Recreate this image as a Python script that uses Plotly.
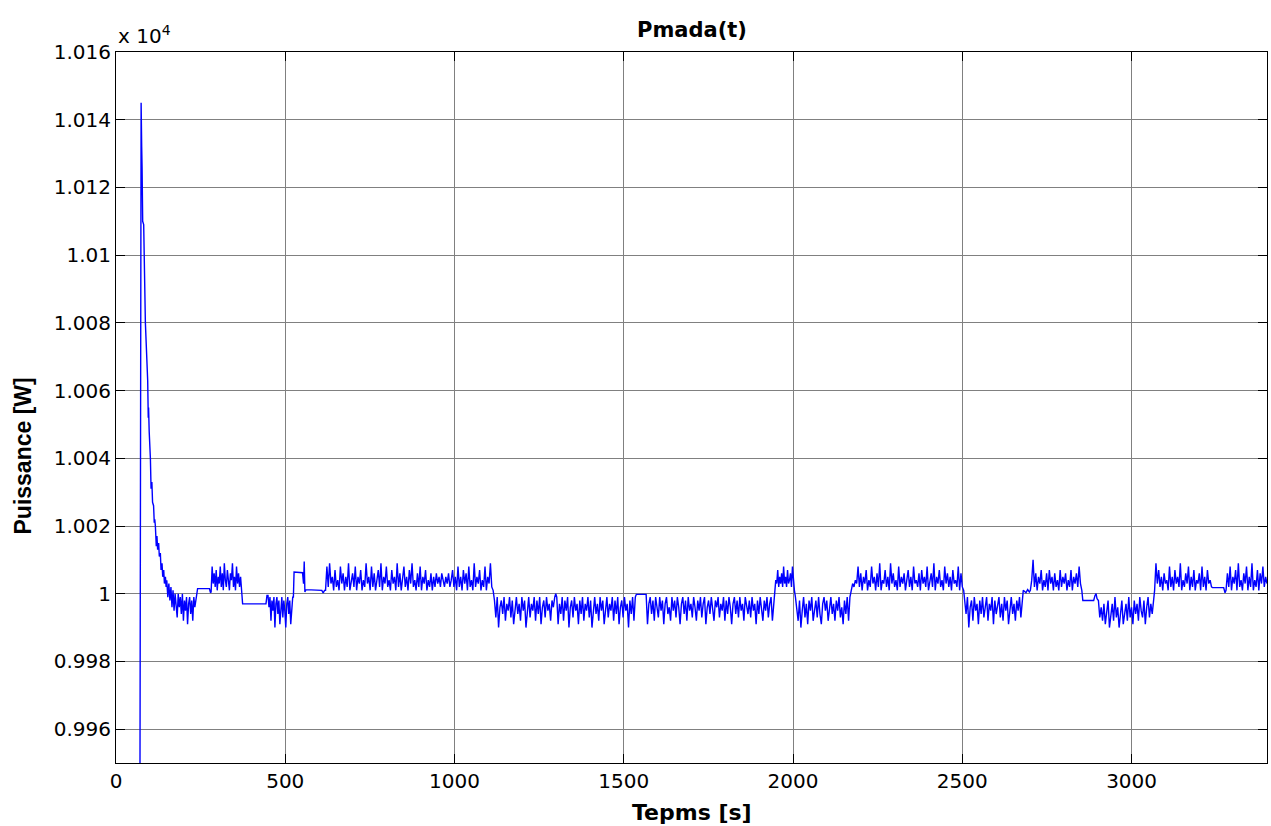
import numpy as np
import plotly.graph_objects as go

# Start-up transient of the DFIG stator power (time in s, power in W)
transient_t = [70, 74.2, 75.9, 77, 78.8, 81.8, 83.8, 86.8, 93.6, 94.5, 95.3, 96.2, 98,
               100.6, 101.6, 103.6, 106, 108, 111, 113, 114.5, 116.3, 119, 121, 123,
               126, 128, 131, 133, 136, 138, 141, 143, 146, 148]
transient_p = [9900, 10145, 10132, 10126, 10110, 10109, 10094, 10080, 10063, 10055, 10052,
               10055, 10048, 10044, 10040, 10031, 10033, 10027, 10026, 10021, 10022,
               10020, 10014, 10017, 10013, 10015, 10011, 10012, 10007, 10009, 10005,
               10007, 10003, 10005, 10002]

# Sampled power in each wind regime (W)
seg_a = [10004, 9999, 10003, 9998, 10002, 9996, 10001, 9995, 10000, 9997, 9993, 10000,
         9996, 9999, 9994, 10000, 9992, 9998, 9995, 9999, 9991, 9997, 9999, 9994, 9998,
         9992, 9999, 9996, 9998]
seg_b = [10000.5, 10008, 10003, 10006, 10002, 10007, 10001, 10005, 10003, 10008, 10002,
         10006, 10001, 10009, 10004, 10002, 10007, 10003, 10001, 10006, 10004, 10009,
         10002, 10005, 10001, 10008, 10003, 10006, 10002, 10005, 10001]
seg_c = [9999.5, 9996, 9999, 9992, 9998, 9995, 9999, 9990, 9997, 9999, 9994, 9998, 9991,
         9996, 9999, 9993, 9998, 9995, 9990, 9997, 9999, 9994, 9998, 9991, 9997, 9999]
seg_d = [10001, 10008, 10002, 10009, 10003, 10005, 10001, 10007, 10002, 10004, 10001,
         10008, 10003, 10006, 10001, 10005, 10002, 10009, 10001, 10004,
         10006, 10002, 10008, 10001, 10005, 10003, 10007, 10001, 10004, 10002, 10009,
         10003, 10005, 10001, 10008, 10002, 10006, 10001, 10004, 10007,
         10002, 10009, 10001, 10005, 10003, 10008, 10002, 10004, 10001, 10007, 10003,
         10005, 10001, 10009, 10002, 10006, 10001, 10004, 10008, 10002,
         10005, 10001, 10007, 10003, 10009, 10002, 10004, 10001, 10006, 10002, 10008,
         10001, 10005, 10003, 10007, 10001, 10004, 10002, 10006, 10001,
         10005, 10002, 10006, 10003, 10005, 10002, 10006, 10004, 10002, 10005, 10003,
         10006, 10002, 10004, 10007, 10002, 10005, 10001, 10008, 10002,
         10005, 10001, 10007, 10003, 10006, 10001, 10008, 10002, 10004, 10001, 10009,
         10002, 10005, 10003, 10007, 10001, 10004, 10002, 10008, 10001, 10005, 10003,
         10009, 10002, 10001]
seg_e1 = [9998, 9993, 9999, 9990, 9996, 9998, 9994, 9999, 9992, 9997, 9995, 9999, 9993,
          9998, 9991, 9996, 9999, 9994, 9997, 9992, 9999, 9995, 9998, 9990, 9996, 9999,
          9993, 9997, 9995, 9999, 9992, 9998, 9994, 9999, 9991, 9996, 9998, 9993, 9999,
          9995, 9997, 9992, 9998, 9996, 9999]
seg_e2 = [9999, 9991, 9997, 9994, 9999, 9992, 9998, 9995, 9999, 9990, 9996, 9998, 9993,
          9999, 9995, 9997, 9991, 9998, 9994, 9999, 9992, 9997, 9995, 9999, 9993, 9998,
          9990, 9996, 9999, 9994, 9997, 9992, 9999, 9995, 9998, 9991, 9996, 9999, 9993,
          9997, 9995, 9999, 9992, 9998, 9994, 9999, 9991, 9996, 9998, 9993, 9999, 9995,
          9997, 9990, 9998, 9994, 9999, 9992, 9999]
seg_e3 = [9991, 9997, 9999, 9994, 9998, 9992, 9999, 9996, 9993, 9999, 9995, 9998, 9991,
          9997, 9999, 9994, 9996, 9992, 9999, 9995, 9998, 9993, 9999, 9996, 9991, 9997,
          9999, 9994, 9998, 9992, 9999, 9995, 9997, 9993, 9999, 9996, 9992, 9998, 9995,
          9999, 9993, 9997, 9999, 9991, 9996, 9998, 9994, 9999, 9995, 9992, 9998, 9996,
          9999, 9993, 9997, 9995, 9999, 9992, 9998, 9994, 9999, 9996, 9991, 9997, 9999,
          9994, 9998, 9993, 9999, 9995, 9997, 9992, 9999, 9996, 9994, 9998, 9993, 9999,
          9995, 9997, 9991, 9998, 9994, 9999, 9996, 9992, 9998, 9995, 9999, 9993, 9997,
          9999, 9992, 9998]
seg_f = [10001, 10004, 10003, 10007, 10002, 10005, 10003, 10006, 10002, 10008, 10003,
         10005, 10002, 10007, 10003, 10004, 10006, 10002, 10008, 10003, 10001]
seg_g = [9999, 9996, 9992, 9998, 9990, 9995, 9999, 9993, 9997, 9991, 9998, 9995, 9999,
         9992, 9996, 9998, 9993, 9999, 9994, 9991, 9997, 9999, 9995, 9998, 9992, 9996,
         9999, 9994, 9997, 9992, 9998, 9995, 9999, 9993, 9996, 9991, 9998, 9994, 9999,
         9992, 9999]
seg_h = [10001, 10003, 10002, 10004, 10003, 10008, 10002, 10006, 10001, 10005, 10003,
         10007, 10001, 10004, 10002, 10008, 10003, 10005, 10001, 10006, 10002, 10009,
         10001, 10004, 10003, 10007, 10002, 10005, 10001, 10009, 10003, 10006, 10002,
         10004, 10001, 10008, 10002, 10005, 10003, 10006, 10001, 10004, 10007, 10002,
         10005, 10001, 10008, 10003, 10004, 10002, 10006, 10001, 10007, 10003, 10005,
         10002, 10008, 10001, 10004, 10006, 10002, 10009, 10001, 10005, 10003, 10007,
         10002, 10004, 10001, 10008, 10003, 10006, 10002, 10005, 10001, 10007, 10003,
         10004, 10002, 10008, 10001, 10006, 10002, 10001]
seg_i = [9998, 9994, 9999, 9990, 9996, 9998, 9992, 9999, 9995, 9997, 9991, 9998, 9994,
         9999, 9993, 9996, 9999, 9992, 9997, 9995, 9999, 9991, 9998, 9994, 9996, 9999,
         9993, 9997, 9992, 9999, 9995, 9998, 9991, 9996, 9999, 9994, 9997, 9992, 9998,
         9995, 9999, 9993, 9999]
seg_j = [10001, 10004, 10010, 10002, 10006, 10001, 10005, 10003, 10007, 10001, 10004,
         10002, 10006, 10001, 10007, 10003, 10005, 10001, 10006, 10002, 10004, 10001,
         10007, 10002, 10005, 10003, 10006, 10001, 10004, 10002, 10007, 10001, 10005,
         10003, 10006, 10002, 10008, 10003, 10001]
seg_k = [9998, 9993, 9996, 9992, 9997, 9991, 9995, 9998, 9990, 9994, 9997, 9992, 9999,
         9993, 9996, 9990, 9995, 9998, 9991, 9994, 9997, 9992, 9999, 9993, 9996, 9991,
         9998, 9994, 9997, 9992, 9999, 9995, 9993, 9998, 9991, 9996, 9999, 9993, 9997,
         9994, 9999]
seg_l = [10001, 10009, 10003, 10007, 10002, 10005, 10001, 10006, 10003, 10004, 10001,
         10008, 10002, 10005, 10001, 10007, 10003, 10005, 10002, 10009, 10001, 10004,
         10002, 10006, 10003, 10008, 10001, 10005, 10002, 10007, 10001, 10004, 10003,
         10006, 10001, 10008, 10002, 10005, 10001, 10007, 10003, 10004, 10002]
seg_m = [10001, 10006, 10002, 10008, 10001, 10005, 10003, 10007, 10001, 10009, 10002,
         10004, 10001, 10006, 10003, 10008, 10001, 10005, 10002, 10009, 10001, 10004,
         10002, 10007, 10001, 10006, 10003, 10008, 10002, 10005, 10003]

# Plateaus between regimes: (times, values)
hold_1 = ([239, 241, 276, 279], [9999, 10001.5, 10001.5, 10000.3])
hold_2 = ([374, 443, 446], [9997, 9997, 9999.5])
hold_3 = ([524, 526, 551, 554, 556, 558, 561, 608, 612, 616],
          [9999, 10006.4, 10006.2, 10003, 10009.5, 10000.5, 10001.2, 10001, 10000.2, 10001])
hold_4 = ([1299], [10000])
hold_5 = ([1537, 1566], [9999.8, 9999.8])
hold_6 = ([2680, 2688, 2693, 2698], [10001, 10000.3, 10001.2, 10000.5])
hold_7 = ([2856, 2888, 2892, 2895, 2898], [9998, 9998, 9999.5, 10000, 9998.5])
hold_8 = ([3239, 3272, 3276], [10001.8, 10001.8, 10000.3])

# Time windows (s) of each sampled regime
windows = {
    "a": (150, 236), "b": (281, 371), "c": (449, 522), "d": (619, 1114),
    "e1": (1118, 1296), "e2": (1302, 1534), "e3": (1570, 1943), "f": (1946, 2004),
    "g": (2007, 2168), "h": (2172, 2504), "i": (2507, 2677), "j": (2701, 2853),
    "k": (2902, 3065), "l": (3068, 3236), "m": (3279, 3400),
}


def sampled(key, vals):
    t0, t1 = windows[key]
    return list(np.linspace(t0, t1, len(vals))), list(vals)


pieces = [
    (transient_t, transient_p),
    sampled("a", seg_a), hold_1,
    sampled("b", seg_b), hold_2,
    sampled("c", seg_c), hold_3,
    sampled("d", seg_d),
    sampled("e1", seg_e1), hold_4,
    sampled("e2", seg_e2), hold_5,
    sampled("e3", seg_e3),
    sampled("f", seg_f),
    sampled("g", seg_g),
    sampled("h", seg_h),
    sampled("i", seg_i), hold_6,
    sampled("j", seg_j), hold_7,
    sampled("k", seg_k),
    sampled("l", seg_l), hold_8,
    sampled("m", seg_m),
]
t = [v for p in pieces for v in p[0]]
p = [v for p in pieces for v in p[1]]

x_ticks = [0, 500, 1000, 1500, 2000, 2500, 3000]
y_ticks = [9960, 9980, 10000, 10020, 10040, 10060, 10080, 10100, 10120, 10140, 10160]
y_tick_text = ["0.996", "0.998", "1", "1.002", "1.004", "1.006", "1.008",
               "1.01", "1.012", "1.014", "1.016"]

fig = go.Figure()
fig.add_trace(go.Scatter(x=t, y=p, mode="lines",
                         line=dict(color="#0000ff", width=1.4), showlegend=False))

tick_font = dict(family="DejaVu Sans", size=20, color="black")
axis_common = dict(
    showline=True, linecolor="black", linewidth=1, mirror="allticks",
    ticks="inside", ticklen=9, tickcolor="black", tickwidth=1,
    showgrid=True, gridcolor="#808080", gridwidth=1, zeroline=False,
    tickfont=tick_font,
)

fig.update_layout(
    width=1271, height=826,
    margin=dict(l=116, r=4, t=52, b=63),
    paper_bgcolor="white", plot_bgcolor="white",
    xaxis=dict(range=[0, 3400], tickvals=x_ticks, **axis_common),
    yaxis=dict(range=[9950, 10160], tickvals=y_ticks, ticktext=y_tick_text,
               **axis_common),
    annotations=[
        dict(text="Pmada(t)", xref="paper", yref="paper", x=0.5, y=1,
             xanchor="center", yanchor="middle", yshift=22, showarrow=False,
             font=dict(family="DejaVu Sans", size=21, color="black", weight="bold")),
        dict(text="Tepms [s]", xref="paper", yref="paper", x=0.5, y=0,
             xanchor="center", yanchor="middle", yshift=-49, showarrow=False,
             font=dict(family="DejaVu Sans", size=22, color="black", weight="bold")),
        dict(text="Puissance [W]", xref="paper", yref="paper", x=0, y=0.5,
             xanchor="center", yanchor="middle", xshift=-94, yshift=-49,
             textangle=-90, showarrow=False,
             font=dict(family="Liberation Sans", size=23, color="black", weight="bold")),
        dict(text="x 10<sup>4</sup>", xref="paper", yref="paper", x=0, y=1,
             xanchor="left", yanchor="bottom", yshift=2, showarrow=False,
             font=dict(family="DejaVu Sans", size=20, color="black")),
    ],
)

fig.write_html("out.html")
